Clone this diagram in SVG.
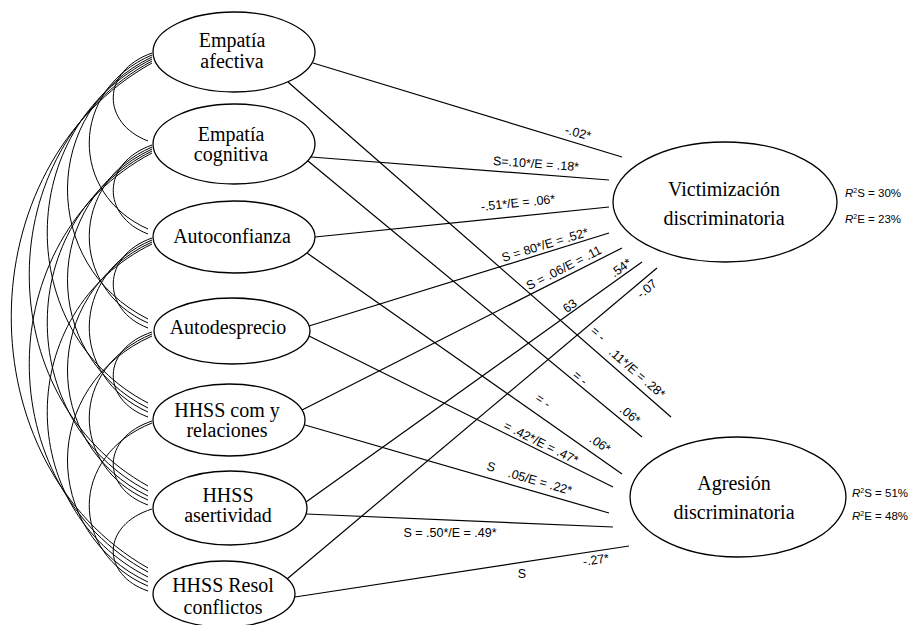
<svg xmlns="http://www.w3.org/2000/svg" width="909" height="625" viewBox="0 0 909 625">
<style>
.node ellipse{fill:none;stroke:#000;stroke-width:1.3}
.nt{font-family:"Liberation Serif","Times New Roman",serif;font-size:20px;text-anchor:middle;fill:#000}
.lbl{font-family:"Liberation Sans",Arial,sans-serif;font-size:12.5px;text-anchor:middle;fill:#000}
.r2{font-family:"Liberation Sans",Arial,sans-serif;font-size:11.5px;fill:#000}
.conn line{stroke:#000;stroke-width:1.2;fill:none}
.arcs path{stroke:#000;stroke-width:1;fill:none}
</style>
<rect width="909" height="625" fill="#fff"/>
<g id="covariances" class="arcs">
<path d="M152,53 C101,71 101,123 148,141"/>
<path d="M152,145 C101,163 101,216 148,234"/>
<path d="M152,238 C101,256 101,310 148,328"/>
<path d="M152,332 C101,349 101,400 148,417"/>
<path d="M152,421 C101,438 101,488 148,505"/>
<path d="M152,509 C101,525 101,575 148,591"/>
<path d="M152,55 C69,90 69,194 148,229"/>
<path d="M152,147 C69,183 69,288 148,323"/>
<path d="M152,240 C69,275 69,377 148,412"/>
<path d="M152,334 C69,368 69,466 148,500"/>
<path d="M152,423 C69,456 69,553 148,586"/>
<path d="M152,57 C40,111 40,265 148,319"/>
<path d="M152,149 C40,202 40,355 148,408"/>
<path d="M152,242 C40,294 40,444 148,496"/>
<path d="M152,336 C40,386 40,532 148,582"/>
<path d="M152,59 C13,129 13,333 148,403"/>
<path d="M152,151 C13,221 13,421 148,491"/>
<path d="M152,244 C13,312 13,509 148,577"/>
<path d="M152,61 C-11,149 -11,398 148,486"/>
<path d="M152,153 C-11,239 -11,486 148,572"/>
<path d="M152,63 C-35,167 -35,464 148,568"/>
</g>
<g id="connectors" class="conn">
<line x1="313" y1="63" x2="622" y2="157"/>
<line x1="311" y1="157" x2="609" y2="180"/>
<line x1="315" y1="237" x2="609" y2="207"/>
<line x1="309" y1="326" x2="609" y2="233"/>
<line x1="302" y1="410" x2="622" y2="248"/>
<line x1="306" y1="502" x2="642" y2="262"/>
<line x1="287" y1="579" x2="657" y2="268"/>
<line x1="288" y1="82" x2="671" y2="417"/>
<line x1="308" y1="161" x2="642" y2="437"/>
<line x1="307" y1="253" x2="622" y2="474"/>
<line x1="309" y1="336" x2="613" y2="487"/>
<line x1="305" y1="425" x2="609" y2="513"/>
<line x1="306" y1="514" x2="613" y2="527"/>
<line x1="295" y1="597" x2="629" y2="546"/>
</g>
<g id="edge-labels">
<text class="lbl" transform="translate(578,133) rotate(15)" y="4">-.02*</text>
<text class="lbl" transform="translate(536,164) rotate(4)" y="4">S=.10*/E = .18*</text>
<text class="lbl" transform="translate(518,203) rotate(-6)" y="4">-.51*/E = .06*</text>
<text class="lbl" transform="translate(545,245) rotate(-17)" y="4">S = 80*/E = .52*</text>
<text class="lbl" transform="translate(564,268) rotate(-27)" y="4">S = .06/E = .11</text>
<text class="lbl" transform="translate(570,306) rotate(-36)" y="4">63</text>
<text class="lbl" transform="translate(621,268) rotate(-36)" y="4">.54*</text>
<text class="lbl" transform="translate(647,289) rotate(-40)" y="4">-.07</text>
<text class="lbl" transform="translate(598,334) rotate(41)" y="4">= -</text>
<text class="lbl" transform="translate(637,373) rotate(41)" y="4">.11*/E = .28*</text>
<text class="lbl" transform="translate(580,378) rotate(39)" y="4">= -</text>
<text class="lbl" transform="translate(630,415) rotate(39)" y="4">.06*</text>
<text class="lbl" transform="translate(543,401) rotate(35)" y="4">= -</text>
<text class="lbl" transform="translate(600,444) rotate(35)" y="4">.06*</text>
<text class="lbl" transform="translate(541,443) rotate(26.5)" y="4">= .42*/E = .47*</text>
<text class="lbl" transform="translate(491,467) rotate(16)" y="4">S</text>
<text class="lbl" transform="translate(540,482) rotate(16)" y="4">.05/E = .22*</text>
<text class="lbl" transform="translate(450,533)" y="4">S = .50*/E = .49*</text>
<text class="lbl" transform="translate(522,574)" y="4">S</text>
<text class="lbl" transform="translate(596,560) rotate(-9)" y="4">-.27*</text>
</g>
<g id="n-empatia-afectiva" class="node">
<ellipse cx="234" cy="52" rx="81" ry="40"/>
<text class="nt" x="232" y="47">Empatía</text>
<text class="nt" x="232" y="68">afectiva</text>
</g>
<g id="n-empatia-cognitiva" class="node">
<ellipse cx="234" cy="144" rx="81" ry="40"/>
<text class="nt" x="231" y="141">Empatía</text>
<text class="nt" x="231" y="161">cognitiva</text>
</g>
<g id="n-autoconfianza" class="node">
<ellipse cx="234" cy="237" rx="81" ry="36"/>
<text class="nt" x="232" y="243">Autoconfianza</text>
</g>
<g id="n-autodesprecio" class="node">
<ellipse cx="232" cy="331" rx="78" ry="33"/>
<text class="nt" x="228" y="334">Autodesprecio</text>
</g>
<g id="n-hhss-com" class="node">
<ellipse cx="229" cy="420" rx="76" ry="36"/>
<text class="nt" x="227" y="417">HHSS com y</text>
<text class="nt" x="227" y="437">relaciones</text>
</g>
<g id="n-hhss-asertividad" class="node">
<ellipse cx="230" cy="508" rx="77" ry="37"/>
<text class="nt" x="228" y="502">HHSS</text>
<text class="nt" x="228" y="522">asertividad</text>
</g>
<g id="n-hhss-resol" class="node">
<ellipse cx="224" cy="594" rx="71" ry="33"/>
<text class="nt" x="223" y="592">HHSS Resol</text>
<text class="nt" x="223" y="614">conflictos</text>
</g>
<g id="n-victimizacion" class="node">
<ellipse cx="725" cy="202" rx="112" ry="60"/>
<text class="nt" x="724" y="196">Victimización</text>
<text class="nt" x="724" y="225">discriminatoria</text>
<text class="r2" x="845" y="197"><tspan font-style="italic">R</tspan><tspan font-size="7" dy="-4">2</tspan><tspan dy="4">S = 30%</tspan></text>
<text class="r2" x="845" y="223"><tspan font-style="italic">R</tspan><tspan font-size="7" dy="-4">2</tspan><tspan dy="4">E = 23%</tspan></text>
</g>
<g id="n-agresion" class="node">
<ellipse cx="738" cy="497" rx="108" ry="60"/>
<text class="nt" x="734" y="490">Agresión</text>
<text class="nt" x="734" y="519">discriminatoria</text>
<text class="r2" x="852" y="497"><tspan font-style="italic">R</tspan><tspan font-size="7" dy="-4">2</tspan><tspan dy="4">S = 51%</tspan></text>
<text class="r2" x="852" y="520"><tspan font-style="italic">R</tspan><tspan font-size="7" dy="-4">2</tspan><tspan dy="4">E = 48%</tspan></text>
</g>
</svg>
